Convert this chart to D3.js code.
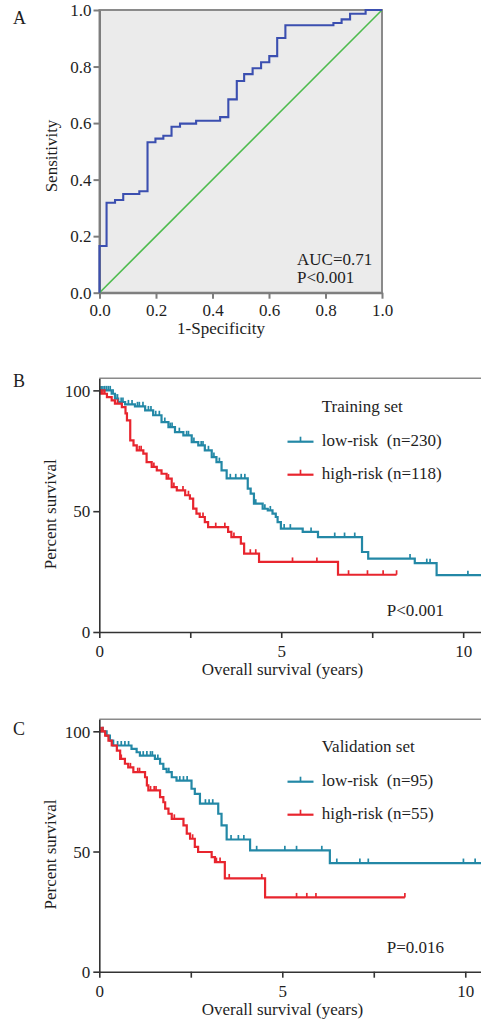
<!DOCTYPE html>
<html><head><meta charset="utf-8">
<script src="https://cdn.jsdelivr.net/npm/d3@7"></script>
<style>
body{margin:0;background:#fff;}
svg{display:block;font-family:"Liberation Serif","Times New Roman",serif;}
text{fill:#1e1e1e;}
</style></head>
<body><svg id="c" width="481" height="1021"></svg>
<script>
// ---------- Panel A: ROC ----------
const rocFpr = [0, 0, 0.025, 0.055, 0.084, 0.141, 0.170, 0.198, 0.226, 0.255, 0.285, 0.342, 0.427, 0.456, 0.486, 0.512, 0.542, 0.572, 0.601, 0.629, 0.658, 0.828, 0.857, 0.887, 0.942, 1.0];
const rocTpr = [0, 0.165, 0.318, 0.328, 0.349, 0.359, 0.532, 0.545, 0.555, 0.587, 0.598, 0.608, 0.621, 0.684, 0.749, 0.773, 0.794, 0.815, 0.837, 0.901, 0.946, 0.954, 0.967, 0.987, 1.0, 1.0];
const diagX = [0, 1];
const diagY = [0, 1];
const rocTicks = [0, 0.2, 0.4, 0.6, 0.8, 1.0];
const rocText = ["AUC=0.71", "P<0.001"];

// ---------- Panel B: Training set ----------
const bLowT = [0, 0.34, 0.43, 0.52, 0.71, 0.98, 1.26, 1.48, 1.71, 1.90, 2.08, 2.31, 2.54, 2.72, 2.90, 3.09, 3.22, 3.36, 3.50, 4.08, 4.16, 4.25, 4.49, 4.63, 4.76, 4.85, 4.90, 4.99, 5.59, 6.01, 7.22, 7.39, 8.67, 9.27, 10.49];
const bLowS = [100, 98.6, 96.6, 95.2, 94.2, 93.4, 91.7, 89.7, 86.9, 84.8, 82.7, 81.4, 78.6, 77.2, 75.2, 72.4, 70.3, 66.9, 63.6, 59.3, 57.3, 53.1, 51.0, 50.3, 49.0, 47.6, 45.5, 42.8, 41.4, 39.3, 33.1, 30.4, 28.5, 23.5, 23.5];
const bLowCens = [0.05, 0.1, 0.15, 0.2, 0.25, 0.3, 0.38, 0.45, 0.5, 0.6, 0.65, 0.8, 0.9, 1.05, 1.1, 1.2, 1.35, 1.42, 1.55, 1.65, 1.8, 1.95, 2.0, 2.2, 2.4, 2.45, 2.6, 2.8, 2.85, 3.0, 3.15, 3.3, 3.6, 3.75, 3.9, 4.0, 4.3, 4.55, 4.7, 5.08, 5.25, 5.82, 6.47, 6.74, 7.02, 8.54, 9.0, 9.09, 10.13];
const bHighT = [0, 0.05, 0.21, 0.34, 0.43, 0.62, 0.72, 0.76, 0.85, 0.94, 1.03, 1.21, 1.30, 1.44, 1.58, 1.71, 1.85, 1.99, 2.13, 2.36, 2.49, 2.58, 2.67, 2.76, 2.90, 2.99, 3.54, 3.63, 3.89, 3.98, 4.39, 6.56, 8.17];
const bHighS = [100, 98.6, 97.2, 95.9, 94.5, 93.1, 90.5, 87.6, 79.3, 77.2, 75.2, 73.8, 70.3, 68.3, 66.9, 65.5, 63.5, 60, 58.6, 56.6, 55.2, 51.1, 49, 47.6, 45.5, 43.4, 41.4, 39.3, 36.6, 32.4, 29.0, 23.7, 23.7];
const bHighCens = [0.1, 0.15, 0.5, 1.1, 1.15, 1.5, 1.9, 2.05, 2.3, 2.45, 2.85, 3.2, 3.45, 3.7, 4.15, 4.3, 5.31, 5.98, 6.85, 7.37, 7.8, 8.17];
const bLegend = ["Training set", "low-risk  (n=230)", "high-risk (n=118)", "P<0.001"];

// ---------- Panel C: Validation set ----------
const cLowT = [0, 0.20, 0.29, 0.38, 0.88, 1.02, 1.11, 1.52, 1.66, 1.75, 1.84, 1.98, 2.11, 2.52, 2.61, 2.75, 3.25, 3.34, 3.48, 4.12, 6.30, 10.43];
const cLowS = [100, 98.2, 96.1, 94.1, 92.7, 91.3, 89.9, 88.5, 86.5, 84.4, 83, 80.9, 79.5, 76.1, 74, 69.9, 65.7, 60.9, 55, 50.5, 45.2, 45.2];
const cLowCens = [0.1, 0.5, 0.6, 0.7, 0.8, 1.2, 1.3, 1.4, 1.45, 1.6, 1.9, 2.2, 2.3, 2.4, 2.9, 3.0, 3.1, 3.6, 3.8, 3.95, 4.3, 5.07, 5.39, 6.08, 6.49, 7.12, 7.35, 9.95, 10.27];
const cHighT = [0, 0.16, 0.25, 0.34, 0.48, 0.57, 0.70, 0.79, 0.93, 1.25, 1.30, 1.34, 1.66, 1.75, 1.80, 1.89, 1.98, 2.30, 2.39, 2.48, 2.61, 2.70, 3.07, 3.16, 3.43, 4.53, 8.35];
const cHighS = [100, 98.2, 96.1, 94.1, 92, 88.5, 86.5, 85, 83, 80.9, 77.5, 75.4, 72.6, 70.5, 67.8, 65.7, 63.6, 60.9, 57.4, 55.3, 51.9, 49.8, 47.7, 45.6, 38.8, 30.9, 30.9];
const cHighCens = [0.05, 0.1, 0.6, 0.85, 1.05, 1.1, 1.4, 1.5, 1.55, 2.05, 2.55, 3.2, 3.3, 3.55, 4.44, 5.39, 5.67, 5.92, 8.35];
const cLegend = ["Validation set", "low-risk  (n=95)", "high-risk (n=55)", "P=0.016"];

const kmXTicks = [0, 2.5, 5, 7.5, 10];
const kmXLabels = {0: "0", 5: "5", 10: "10"};
const kmYTicks = [0, 50, 100];

const BLUE = "#2388a6", RED = "#e8252e";
const svg = d3.select("#c");
const FS = 17;

function styleAxis(g, color, w) {
  g.selectAll(".domain").attr("stroke", color).attr("stroke-width", w);
  g.selectAll(".tick line").attr("stroke", color).attr("stroke-width", w);
  g.selectAll(".tick text").attr("fill", "#1e1e1e").style("font-size", FS + "px")
    .style("font-family", '"Liberation Serif", serif');
}

// ================= Panel A =================
(function () {
  const x = d3.scaleLinear([0, 1], [99.5, 382]);
  const y = d3.scaleLinear([0, 1], [292.7, 10]);
  const g = svg.append("g");
  g.append("rect").attr("x", x(0)).attr("y", y(1)).attr("width", x(1) - x(0)).attr("height", y(0) - y(1))
    .attr("fill", "#ebebeb").attr("stroke", "#8a8a8a").attr("stroke-width", 2);
  const ax = g.append("g").attr("transform", `translate(0,${y(0)})`)
    .call(d3.axisBottom(x).tickValues(rocTicks).tickFormat(d3.format(".1f")).tickSize(6).tickSizeOuter(0).tickPadding(3));
  styleAxis(ax, "#7d7d7d", 2);
  const ay = g.append("g").attr("transform", `translate(${x(0)},0)`)
    .call(d3.axisLeft(y).tickValues(rocTicks).tickFormat(d3.format(".1f")).tickSize(6).tickSizeOuter(0).tickPadding(2));
  styleAxis(ay, "#7d7d7d", 2);
  ay.selectAll(".tick text").attr("dy", "0.34em");
  ax.selectAll(".tick text").attr("dy", "0.82em");

  g.append("path").datum(d3.zip(diagX, diagY))
    .attr("d", d3.line().x(d => x(d[0])).y(d => y(d[1])))
    .attr("fill", "none").attr("stroke", "#4dbb4d").attr("stroke-width", 1.6);
  g.append("path").datum(d3.zip(rocFpr, rocTpr))
    .attr("d", d3.line().x(d => x(d[0])).y(d => y(d[1])).curve(d3.curveStepAfter))
    .attr("fill", "none").attr("stroke", "#3b4fb0").attr("stroke-width", 2.1);

  g.append("text").attr("x", 297).attr("y", 265).style("font-size", FS + "px").text(rocText[0]);
  g.append("text").attr("x", 297).attr("y", 283).style("font-size", FS + "px").text(rocText[1]);
  g.append("text").attr("x", 13).attr("y", 23.5).style("font-size", "18px").text("A");
  g.append("text").attr("transform", "translate(57,156) rotate(-90)").attr("text-anchor", "middle")
    .style("font-size", FS + "px").text("Sensitivity");
  g.append("text").attr("x", 221).attr("y", 334).attr("text-anchor", "middle")
    .style("font-size", FS + "px").text("1-Specificity");
})();

// ================= KM panels =================
function survAt(T, S, t) {
  const i = d3.bisectRight(T, t) - 1;
  return S[Math.max(0, i)];
}

function kmPanel(cfg) {
  const x = d3.scaleLinear([0, cfg.xmax], [99.3, 481]);
  const y = d3.scaleLinear([0, 105], [cfg.y0, cfg.yTop]);
  const g = svg.append("g");
  g.append("line").attr("x1", x(0)).attr("x2", 481).attr("y1", y(105)).attr("y2", y(105))
    .attr("stroke", "#8a8a8a").attr("stroke-width", 1.5);

  const line = d3.line().x(d => x(d[0])).y(d => y(d[1])).curve(d3.curveStepAfter);
  cfg.series.forEach(s => {
    g.append("path").datum(d3.zip(s.T, s.S)).attr("d", line)
      .attr("fill", "none").attr("stroke", s.color).attr("stroke-width", 2.2);
    g.selectAll(null).data(s.C).join("line")
      .attr("x1", d => x(d)).attr("x2", d => x(d))
      .attr("y1", d => y(survAt(s.T, s.S, d))).attr("y2", d => y(survAt(s.T, s.S, d)) - 4.5)
      .attr("stroke", s.color).attr("stroke-width", 1.7);
  });

  const ax = g.append("g").attr("transform", `translate(0,${y(0)})`)
    .call(d3.axisBottom(x).tickValues(kmXTicks).tickFormat(d => kmXLabels[d] || "").tickSize(6).tickSizeOuter(0).tickPadding(5));
  styleAxis(ax, "#333", 1.6);
  ax.select(".domain").attr("d", `M${x(0)},0.5H481`);
  ax.selectAll(".tick text").attr("dy", "0.82em");
  const ay = g.append("g").attr("transform", `translate(${x(0)},0)`)
    .call(d3.axisLeft(y).tickValues(kmYTicks).tickSize(6).tickSizeOuter(0).tickPadding(3));
  styleAxis(ay, "#333", 1.6);
  ay.selectAll(".tick text").attr("dy", "0.34em");

  const L = cfg.legend;
  g.append("text").attr("x", 321.7).attr("y", cfg.legY).style("font-size", FS + "px").text(L[0]);
  [[cfg.series[0].color, L[1], cfg.legY + 30], [cfg.series[1].color, L[2], cfg.legY + 63]].forEach(([c, t, yy]) => {
    g.append("line").attr("x1", 287.5).attr("x2", 313.5).attr("y1", yy).attr("y2", yy)
      .attr("stroke", c).attr("stroke-width", 2.2);
    g.append("line").attr("x1", 300.5).attr("x2", 300.5).attr("y1", yy).attr("y2", yy - 5)
      .attr("stroke", c).attr("stroke-width", 1.7);
    g.append("text").attr("x", 321.7).attr("y", yy + 4.5).style("font-size", FS + "px")
      .style("white-space", "pre").text(t);
  });
  g.append("text").attr("x", 386.7).attr("y", cfg.pY).style("font-size", FS + "px").text(L[3]);
  g.append("text").attr("x", 13).attr("y", cfg.letterY).style("font-size", "18px").text(cfg.letter);
  g.append("text").attr("transform", `translate(56,${(cfg.yTop + cfg.y0) / 2 + 9}) rotate(-90)`)
    .attr("text-anchor", "middle").style("font-size", FS + "px").text("Percent survival");
  g.append("text").attr("x", 282.5).attr("y", cfg.y0 + 43).attr("text-anchor", "middle")
    .style("font-size", FS + "px").text("Overall survival (years)");
}

kmPanel({
  xmax: 10.49, y0: 632, yTop: 378.3, legY: 411.7, pY: 616, letter: "B", letterY: 386.7,
  legend: bLegend,
  series: [
    {T: bLowT, S: bLowS, C: bLowCens, color: BLUE},
    {T: bHighT, S: bHighS, C: bHighCens, color: RED}
  ]
});
kmPanel({
  xmax: 10.43, y0: 971.7, yTop: 719.3, legY: 751.7, pY: 952.7, letter: "C", letterY: 735,
  legend: cLegend,
  series: [
    {T: cLowT, S: cLowS, C: cLowCens, color: BLUE},
    {T: cHighT, S: cHighS, C: cHighCens, color: RED}
  ]
});
</script></body></html>
